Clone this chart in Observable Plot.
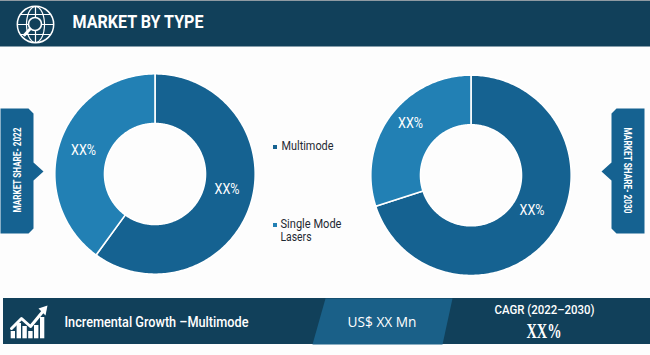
<!DOCTYPE html>
<html><head><meta charset="utf-8">
<script src="https://cdn.jsdelivr.net/npm/d3@7"></script>
<script src="https://cdn.jsdelivr.net/npm/@observablehq/plot@0.6"></script>
<style>html,body{margin:0;padding:0;background:#fdfdfd}svg{display:block}</style>
</head><body><div id="c"></div>
<script>
const types = ["Multimode", "Single Mode Lasers"];
const share2022 = [60, 40];
const share2030 = [70, 30];
const sliceLabels = ["XX%", "XX%"];
const palette = {Multimode: "#156291", "Single Mode Lasers": "#2280b4"};

const navy = "#11405a", band = "#1a6088", tab = "#156291";
const body = "Roboto,sans-serif";

// widths of the condensed lettering in the picture
const fitted = {
  "MARKET BY TYPE": 131,
  "MARKET SHARE- 2022": 85,
  "MARKET SHARE- 2030": 86,
  "Incremental Growth –Multimode": 184,
  "CAGR (2022–2030)": 100,
  "XX%": 25,
  "Multimode": 52,
  "Single Mode": 61,
  "Lasers": 31,
  "US$ XX Mn": 69
};

function donut(values, year, cx, cy, r0, r1) {
  const total = d3.sum(values);
  const pts = [];
  let a = 0;
  values.forEach((v, i) => {
    const a1 = a + v / total * 2 * Math.PI;
    const n = Math.ceil((a1 - a) * 60);
    const key = year + types[i];
    for (let k = 0; k <= n; k++) {
      const t = a + (a1 - a) * k / n;
      pts.push({key, type: types[i], x: cx + r1 * Math.sin(t), y: cy - r1 * Math.cos(t)});
    }
    for (let k = n; k >= 0; k--) {
      const t = a + (a1 - a) * k / n;
      pts.push({key, type: types[i], x: cx + r0 * Math.sin(t), y: cy - r0 * Math.cos(t)});
    }
    a = a1;
  });
  return pts;
}
const ring = [...donut(share2022, 2022, 154.5, 173.5, 50.5, 100.2),
              ...donut(share2030, 2030, 470.5, 174.8, 50.5, 100.2)];

const labelSpots = [
  {x: 226.5, y: 189.5, t: sliceLabels[0]}, {x: 83, y: 150.5, t: sliceLabels[1]},
  {x: 531.5, y: 210.5, t: sliceLabels[0]}, {x: 410, y: 123.5, t: sliceLabels[1]}
];

const poly = (pts, fill) => Plot.line(pts, {x: d => d[0], y: d => d[1], fill, stroke: "none", curve: "linear-closed"});
const path = (pts, sw = 1.2) => Plot.line(pts, {x: d => d[0], y: d => d[1], stroke: "#fff", strokeWidth: sw, fill: "none"});
const meridian = (cx, cy, rx, ry) => d3.range(0, 65).map(i => [cx + rx * Math.cos(i / 64 * 2 * Math.PI), cy + ry * Math.sin(i / 64 * 2 * Math.PI)]);

const chartBars = [[10.7,15,331],[16.6,21,323],[22.4,26.8,326],[28.2,32.6,331],[34,38.4,325],[40,44.3,317]];

const plot = Plot.plot({
  width: 650, height: 355, margin: 0,
  style: {background: "#fdfdfd"},
  x: {domain: [0, 650], range: [0, 650], axis: null},
  y: {domain: [0, 355], range: [0, 355], axis: null},
  color: {domain: types, range: types.map(t => palette[t])},
  marks: [
    // header
    Plot.rect([0], {x1: 0, x2: 650, y1: 0, y2: 1, fill: "#8f9aa2"}),
    Plot.rect([0], {x1: 0, x2: 650, y1: 1, y2: 46.5, fill: navy}),
    // globe icon
    Plot.dot([[35, 24]], {x: d => d[0], y: d => d[1], r: 18.2, stroke: "#fff", strokeWidth: 1.5, fill: "none"}),
    path(meridian(35, 24, 9, 18)),
    path([[35, 6], [35, 42]]),
    path([[17, 24], [53, 24]]),
    path([[20, 14], [50, 14]]),
    path([[20, 34], [50, 34]]),
    Plot.dot([[34.5, 23.5]], {x: d => d[0], y: d => d[1], r: 6.5, stroke: "#fff", strokeWidth: 1.6, fill: navy}),
    path([[29.5, 28.5], [24, 34.5]], 2.8),
    Plot.text(["MARKET BY TYPE"], {x: 72, y: 21, text: d => d, fill: "#fff", textAnchor: "start", fontSize: 19, fontWeight: 700, fontFamily: body}),
    // side tabs
    poly([[0,108],[28,108],[33,113],[33,162],[43,171],[33,180],[33,228],[28,233],[0,233]], tab),
    poly([[644,108],[616,108],[611,113],[611,162],[601,171],[611,180],[611,228],[616,233],[644,233]], tab),
    Plot.text(["MARKET SHARE- 2022"], {x: 17, y: 169.5, text: d => d, rotate: -90, fill: "#fff", fontSize: 11.5, fontWeight: 700, fontFamily: body}),
    Plot.text(["MARKET SHARE- 2030"], {x: 627, y: 170, text: d => d, rotate: 90, fill: "#fff", fontSize: 11.5, fontWeight: 700, fontFamily: body}),
    // donuts
    Plot.line(ring, {x: "x", y: "y", z: "key", fill: "type", stroke: "#fff", strokeWidth: 1.6, curve: "linear-closed"}),
    Plot.text(labelSpots, {x: "x", y: "y", text: "t", fill: "#fff", fontSize: 14, fontWeight: 400, fontFamily: body}),
    // legend
    Plot.rect([0], {x1: 273, x2: 277, y1: 145, y2: 149, fill: palette[types[0]]}),
    Plot.rect([0], {x1: 273, x2: 277, y1: 223, y2: 227, fill: palette[types[1]]}),
    Plot.text([types[0]], {x: 281, y: 146, text: d => d, textAnchor: "start", fill: "#1f2a33", fontSize: 12, fontFamily: body}),
    Plot.text(["Single Mode"], {x: 280, y: 224, text: d => d, textAnchor: "start", fill: "#1f2a33", fontSize: 12, fontFamily: body}),
    Plot.text(["Lasers"], {x: 280, y: 237, text: d => d, textAnchor: "start", fill: "#1f2a33", fontSize: 12, fontFamily: body}),
    // bottom band
    Plot.rect([0], {x1: 3, x2: 650, y1: 298, y2: 344, fill: navy}),
    poly([[325,298],[452,298],[442,344],[312,344]], band),
    Plot.rect(chartBars, {x1: d => d[0], x2: d => d[1], y1: d => d[2], y2: 338.3, fill: "#fff"}),
    path([[11,328],[21,318],[30,326],[44,309]], 3),
    poly([[47,305],[45,315],[38,308]], "#fff"),
    Plot.text(["Incremental Growth –Multimode"], {x: 64, y: 322, text: d => d, textAnchor: "start", fill: "#fff", fontSize: 15, fontWeight: 500, fontFamily: body}),
    Plot.text(["US$ XX Mn"], {x: 381.5, y: 322, text: d => d, fill: "#fff", fontSize: 14, fontFamily: "'Open Sans',sans-serif"}),
    Plot.text(["CAGR (2022–2030)"], {x: 544, y: 309, text: d => d, fill: "#fff", fontSize: 13.5, fontWeight: 500, fontFamily: body}),
    Plot.text(["XX%"], {x: 543.5, y: 331, text: d => d, fill: "#fff", fontSize: 20.5, fontWeight: 700, fontFamily: "'Liberation Serif',serif", className: "big"})
  ]
});
// squeeze the lettering to the condensed widths of the original
plot.querySelectorAll("text").forEach(t => {
  const w = fitted[t.textContent];
  if (w) {
    t.setAttribute("textLength", w);
    t.setAttribute("lengthAdjust", "spacingAndGlyphs");
  }
});
plot.querySelectorAll(".big text").forEach(t => t.setAttribute("textLength", 35));
document.getElementById("c").append(plot);
</script></body></html>
